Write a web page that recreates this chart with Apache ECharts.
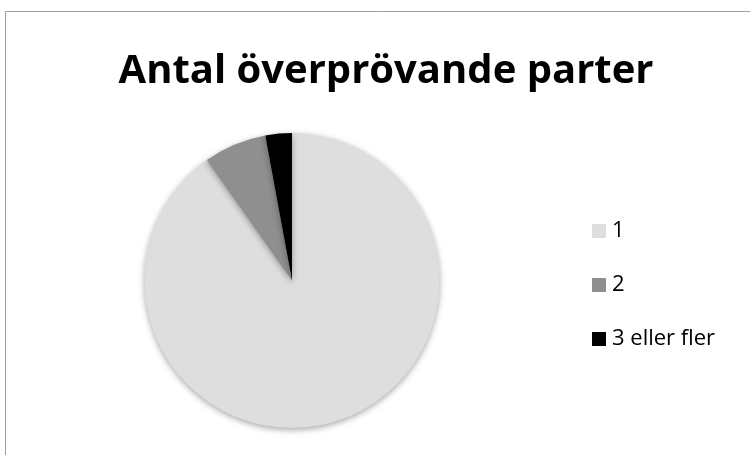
<!DOCTYPE html>
<html>
<head>
<meta charset="utf-8">
<script src="https://cdn.jsdelivr.net/npm/echarts@6/dist/echarts.min.js"></script>
<style>
html,body{margin:0;padding:0;background:#fff;}
#c{width:750px;height:455px;}
</style>
</head>
<body>
<div id="c"></div>
<script>
const categories = ['1', '2', '3 eller fler'];
const values = [90.2, 6.9, 2.9];
const colors = ['#dedede', '#8f8f8f', '#000000'];

const chart = echarts.init(document.getElementById('c'), null, {renderer: 'canvas'});
chart.setOption({
  animation: false,
  backgroundColor: '#ffffff',
  graphic: [{
    type: 'rect',
    shape: {x: 5.5, y: 11.5, width: 800, height: 500},
    style: {fill: 'none', stroke: '#a0a0a0', lineWidth: 1},
    silent: true
  }],
  title: {
    text: 'Antal överprövande parter',
    left: 381,
    textAlign: 'center',
    top: 47,
    textStyle: {fontFamily: 'Open Sans', fontWeight: 'bold', fontSize: 40, color: '#000'}
  },
  legend: {
    orient: 'vertical',
    left: 587,
    top: 214,
    itemWidth: 14,
    itemHeight: 14,
    itemGap: 30,
    icon: 'rect',
    data: categories,
    textStyle: {fontFamily: 'Open Sans', fontSize: 22, lineHeight: 24, color: '#000', padding: [0, 0, 0, 1]}
  },
  series: [{
    type: 'pie',
    center: [292, 280.5],
    radius: 147.5,
    startAngle: 90,
    clockwise: true,
    label: {show: false},
    labelLine: {show: false},
    emphasis: {disabled: true},
    itemStyle: {borderWidth: 0, shadowBlur: 6, shadowColor: 'rgba(0,0,0,0.35)', shadowOffsetY: 2},
    data: categories.map((c, i) => ({name: c, value: values[i], itemStyle: {color: colors[i]}}))
  }]
});
</script>
</body>
</html>
